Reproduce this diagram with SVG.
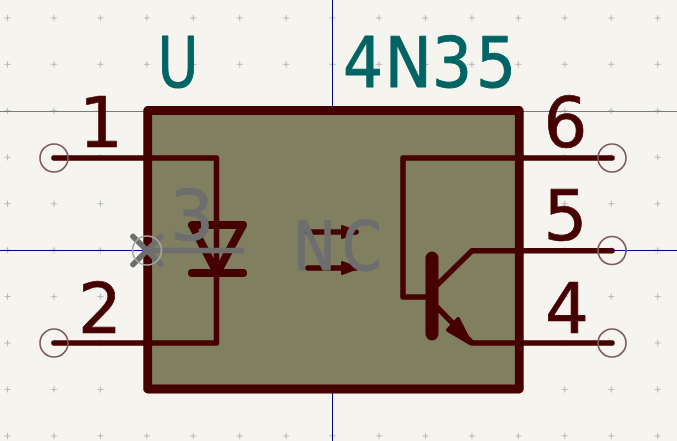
<svg xmlns="http://www.w3.org/2000/svg" width="677" height="441" viewBox="0 0 677 441">
<style>
text{font-family:"DejaVu Sans","Liberation Sans",sans-serif;stroke-linejoin:round}
.pn{fill:#460000;stroke:#460000;stroke-width:.7;font-size:69px;text-anchor:middle}
.fld{fill:#006464;stroke:#006464;stroke-width:1;font-size:70px}
.nc{fill:#6e6e6e;stroke:#6e6e6e;stroke-width:1;font-size:67px}
.w{fill:none;stroke:#460000;stroke-width:5.500;stroke-linecap:round;stroke-linejoin:round}
.t{fill:none;stroke:#460000;stroke-width:8;stroke-linecap:round;stroke-linejoin:round}
.c{fill:none;stroke:#7a5a60;stroke-width:1.600}
.g{fill:none;stroke:#6e6e6e;stroke-width:5.500;stroke-linecap:round}
</style>
<defs>
<pattern id="grid" width="46.44" height="46.44" patternUnits="userSpaceOnUse" x="-15.7" y="-5.3">
<path d="M20.2 23.2H26.2M23.2 20.2V26.2" stroke="#b8b8b4" stroke-width="1.100"/>
</pattern>
</defs>
<rect width="677" height="441" fill="#f5f4ef"/>
<rect width="677" height="441" fill="url(#grid)"/>
<g id="axes" shape-rendering="crispEdges">
<path d="M0 111.500H677" stroke="#7b7b7b" stroke-width="1"/>
<path d="M0 250.500H677M332.500 0V441" stroke="#000080" stroke-width="1"/>
</g>
<g id="body">
<rect x="147.700" y="110.500" width="371.600" height="278.500" fill="#808060" stroke="#460000" stroke-width="8.800" stroke-linejoin="round"/>
</g>
<g id="connectors">
<path class="w" d="M54 158H216.500V343H54"/>
<path class="w" d="M612 158H403V297H432"/>
<path class="w" d="M432 290L472 250.700H612"/>
<path class="w" d="M432 302L472 343H612"/>
<path class="w" d="M308 232H356M308 268H356"/>
</g>
<g id="pin-1"><circle class="c" cx="54" cy="158" r="14"/><text class="pn" x="101" y="147">1</text></g>
<g id="pin-2"><circle class="c" cx="54" cy="343" r="14"/><text class="pn" x="100" y="333">2</text></g>
<g id="pin-6"><circle class="c" cx="612" cy="158" r="14"/><text class="pn" x="565.500" y="147">6</text></g>
<g id="pin-5"><circle class="c" cx="612" cy="250.500" r="14"/><text class="pn" x="565.500" y="240">5</text></g>
<g id="pin-4"><circle class="c" cx="612" cy="343" r="14"/><text class="pn" x="567" y="333">4</text></g>
<g id="diode">
<path class="t" d="M192 225H243L217 273ZM192 273H243"/>
</g>
<g id="phototransistor">
<path d="M432 258V334" stroke="#460000" stroke-width="13" stroke-linecap="round"/>
<path d="M470 343L458 319L448 330Z" fill="#460000" stroke="#460000" stroke-width="4" stroke-linejoin="round"/>
</g>
<g id="optical-arrows">
<path d="M358 232L342 226V238ZM358 268L342 262V274Z" fill="#460000" stroke="#460000" stroke-width="2" stroke-linejoin="round"/>
</g>
<g id="pin-3">
<path class="g" d="M147 250.500H242M133 236.500L161 264.500M161 236.500L133 264.500"/>
<circle cx="147" cy="250.500" r="14.500" fill="none" stroke="#a8a8a8" stroke-width="1.600"/>
<text class="nc" style="font-size:69px" x="192" y="239.500" text-anchor="middle">3</text>
</g>
<g id="nc"><text class="nc" transform="scale(.85 1)" x="345 402.500" y="270.500">NC</text></g>
<g id="ref"><text class="fld" transform="scale(.8 1)" x="197" y="87">U</text></g>
<g id="value"><text class="fld" transform="scale(.9 1)" x="381 427.500 480 529" y="87">4N35</text></g>
</svg>
